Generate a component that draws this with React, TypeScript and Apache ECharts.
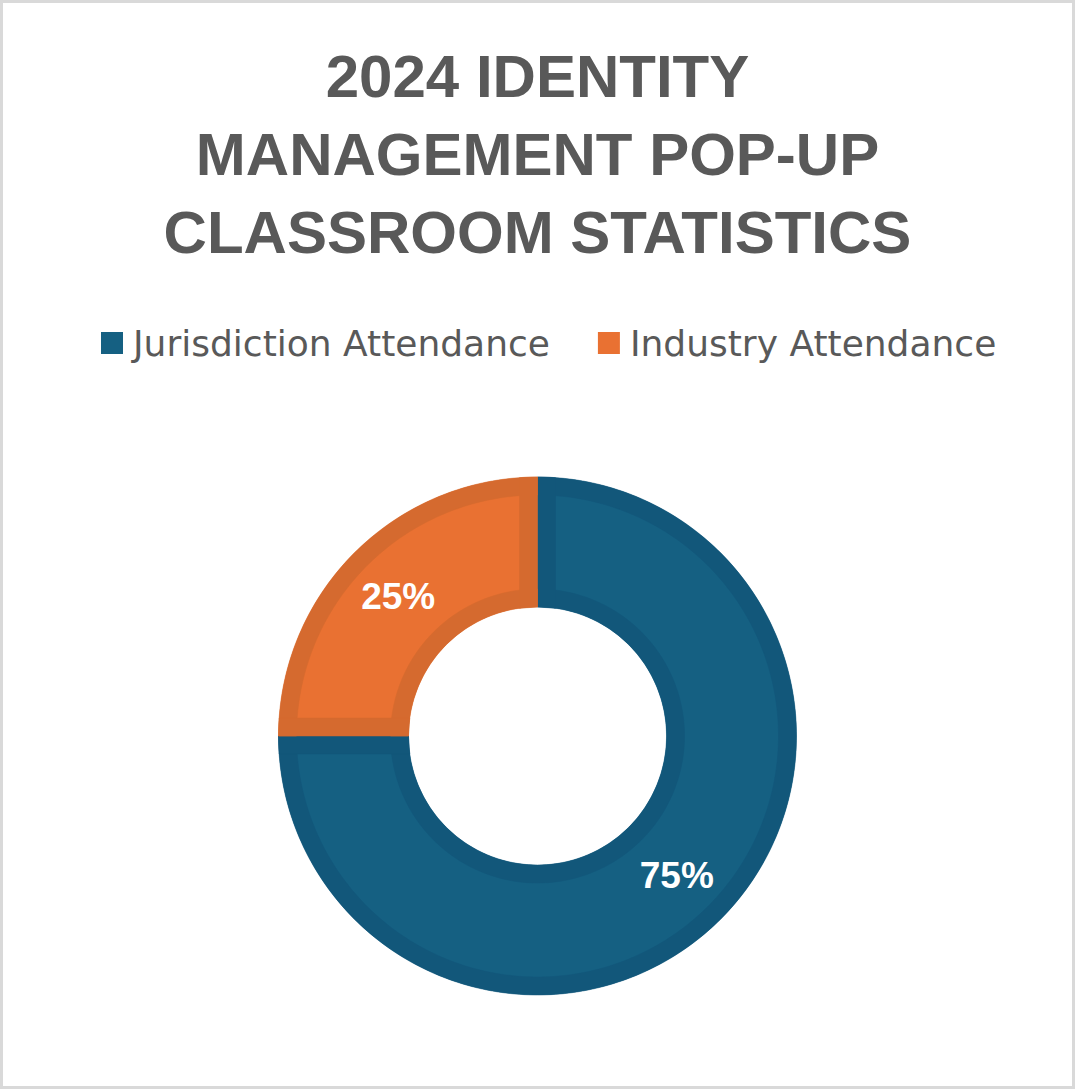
import React, { useEffect, useRef } from "react";
import * as echarts from "echarts";

const titleLines = ["2024 IDENTITY", "MANAGEMENT POP-UP", "CLASSROOM STATISTICS"];
const categories = ["Jurisdiction Attendance", "Industry Attendance"];
const shares = [75, 25];
const fillColors = ["#156082", "#E97132"];
const edgeColors = ["#12577A", "#D56A2F"];

const CX = 537.5;
const CY = 736;
const R_IN = 129;
const R_OUT = 259;
const EDGE = 18;

function pt(r: number, t: number): number[] {
  return [CX + r * Math.sin(t), CY - r * Math.cos(t)];
}

function arc(r: number, a: number, b: number): number[][] {
  const n = Math.max(4, Math.ceil((Math.abs(b - a) * 180) / Math.PI));
  const out: number[][] = [];
  for (let k = 0; k <= n; k++) out.push(pt(r, a + ((b - a) * k) / n));
  return out;
}

export default function App() {
  const ref = useRef<HTMLDivElement>(null);

  useEffect(() => {
    if (!ref.current) return;
    const chart = echarts.init(ref.current, undefined, { renderer: "svg" });
    const total = shares.reduce((s, v) => s + v, 0);

    const renderFrame = (params: any, api: any) => {
      const i = params.dataIndex;
      const before = shares.slice(0, i).reduce((s, v) => s + v, 0);
      const t0 = (before / total) * Math.PI * 2;
      const t1 = ((before + shares[i]) / total) * Math.PI * 2;
      const ro = R_OUT - EDGE;
      const ri = R_IN + EDGE;
      const color = edgeColors[i];
      const outerBand = arc(R_OUT, t0, t1).concat(arc(ro, t1, t0));
      const innerBand = arc(ri, t0, t1).concat(arc(R_IN, t1, t0));
      const startStrip = [
        pt(R_IN, t0),
        pt(R_OUT, t0),
        pt(R_OUT, t0 + Math.asin(EDGE / R_OUT)),
        pt(R_IN, t0 + Math.asin(EDGE / R_IN)),
      ];
      const endStrip = [
        pt(R_IN, t1),
        pt(R_OUT, t1),
        pt(R_OUT, t1 - Math.asin(EDGE / R_OUT)),
        pt(R_IN, t1 - Math.asin(EDGE / R_IN)),
      ];
      return {
        type: "group",
        children: [outerBand, innerBand, startStrip, endStrip].map((points) => ({
          type: "polygon",
          shape: { points },
          style: { fill: color, stroke: color, lineWidth: 0.5 },
        })),
      };
    };

    const option: any = {
      animation: false,
      backgroundColor: "#ffffff",
      title: {
        text: titleLines.join("\n"),
        left: CX,
        top: 37,
        padding: 0,
        textAlign: "center",
        textStyle: {
          fontFamily: "Liberation Sans, Arial, sans-serif",
          fontSize: 60,
          fontWeight: "bold",
          color: "#595959",
          lineHeight: 78,
        },
      },
      legend: {
        data: categories,
        left: 101,
        top: 325,
        padding: 0,
        icon: "rect",
        itemWidth: 22,
        itemHeight: 22,
        itemGap: 48,
        selectedMode: false,
        textStyle: {
          fontFamily: "DejaVu Sans, sans-serif",
          fontSize: 36,
          color: "#595959",
          padding: [0, 0, 0, 5],
        },
      },
      series: [
        {
          type: "pie",
          name: "Attendance",
          center: [CX, CY],
          radius: [R_IN, R_OUT],
          startAngle: 90,
          clockwise: true,
          silent: true,
          avoidLabelOverlap: false,
          labelLine: { show: false },
          label: {
            show: true,
            position: "inside",
            formatter: "{d}%",
            color: "#ffffff",
            fontFamily: "Liberation Sans, Arial, sans-serif",
            fontSize: 37,
            fontWeight: "bold",
          },
          itemStyle: { borderWidth: 0 },
          emphasis: { disabled: true },
          data: categories.map((name, i) => ({
            name,
            value: shares[i],
            itemStyle: { color: fillColors[i] },
          })),
        },
        {
          type: "custom",
          name: "frame",
          coordinateSystem: "none",
          silent: true,
          z: 5,
          clip: false,
          data: shares.map((v) => [v]),
          encode: { itemName: -1 },
          renderItem: renderFrame,
        },
      ],
    };

    chart.setOption(option);
    return () => chart.dispose();
  }, []);

  return (
    <div style={{ position: "absolute", left: 0, top: 0, width: 1075, height: 1089 }}>
      <div ref={ref} style={{ width: 1075, height: 1089 }} />
      <div
        style={{
          position: "absolute",
          left: 0,
          top: 0,
          width: 1075,
          height: 1089,
          boxSizing: "border-box",
          border: "3px solid #d9d9d9",
          pointerEvents: "none",
        }}
      />
    </div>
  );
}
